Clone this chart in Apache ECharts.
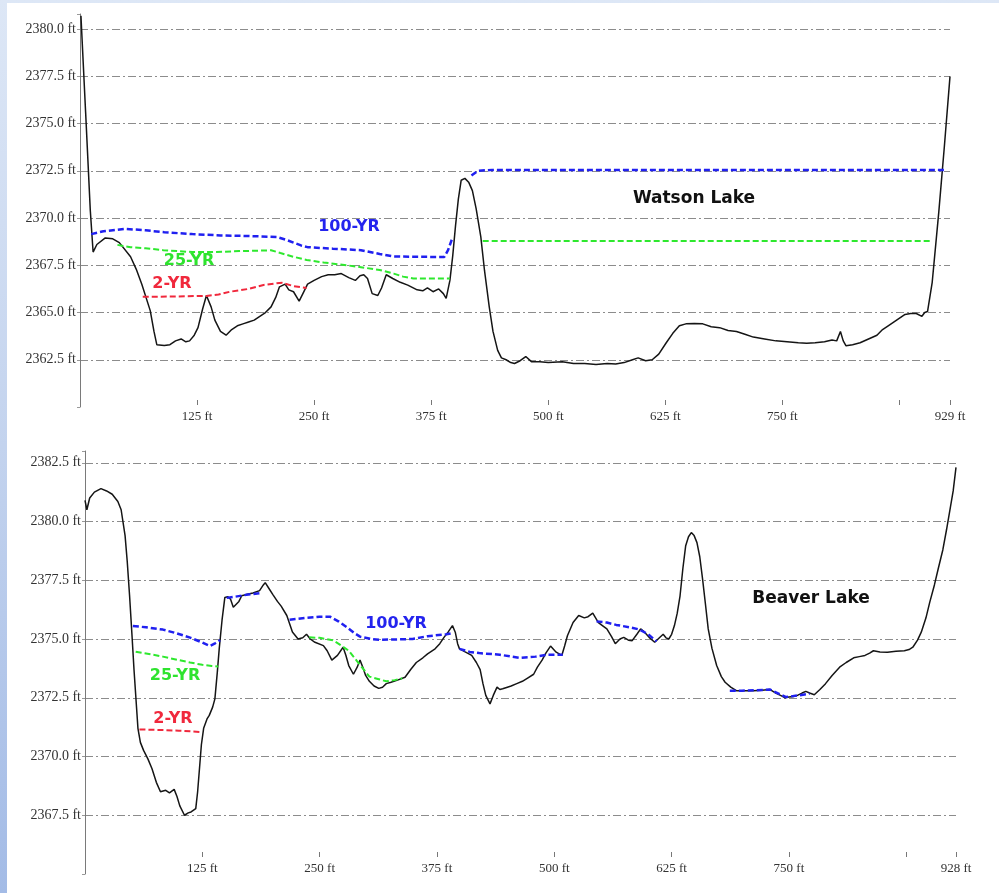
<!DOCTYPE html>
<html>
<head>
<meta charset="utf-8">
<script src="https://cdn.jsdelivr.net/npm/echarts@6/dist/echarts.min.js"></script>
<style>
html,body{margin:0;padding:0;width:999px;height:893px;overflow:hidden;}
body{background:linear-gradient(180deg,#dde7f6 0%,#c3d3ee 50%,#a3bbe6 100%);position:relative;}
#paper{position:absolute;left:7px;top:3px;right:0;bottom:0;background:#ffffff;}
#chart{position:absolute;left:0;top:0;width:999px;height:893px;}
</style>
</head>
<body>
<div id="paper"></div>
<div id="chart"></div>
<script>
// ---------- tick labels ----------
const topYTickLabels = ['2362.5 ft','2365.0 ft','2367.5 ft','2370.0 ft','2372.5 ft','2375.0 ft','2377.5 ft','2380.0 ft'];
const botYTickLabels = ['2367.5 ft','2370.0 ft','2372.5 ft','2375.0 ft','2377.5 ft','2380.0 ft','2382.5 ft'];
const topXTickLabels = ['125 ft','250 ft','375 ft','500 ft','625 ft','750 ft','929 ft'];
const botXTickLabels = ['125 ft','250 ft','375 ft','500 ft','625 ft','750 ft','928 ft'];

// ---------- Watson Lake (top) ----------
const topGround = [[1,2380.7],[6,2375.6],[11,2370.4],[14,2368.2],[18,2368.6],[27,2368.95],[35,2368.9],[42,2368.7],[54,2367.95],[60,2367.3],[66,2366.5],[75,2365.1],[79,2364.0],[82,2363.3],[90,2363.25],[96,2363.3],[102,2363.5],[108,2363.6],[113,2363.45],[117,2363.5],[122,2363.8],[126,2364.2],[131,2365.2],[135,2365.9],[137,2365.95],[140,2365.3],[144,2364.6],[150,2364.0],[156,2363.8],[162,2364.1],[168,2364.3],[174,2364.4],[180,2364.5],[186,2364.6],[192,2364.8],[198,2365.0],[204,2365.3],[209,2365.8],[213,2366.36],[219,2366.5],[223,2366.2],[228,2366.1],[234,2365.6],[238,2366.0],[243,2366.5],[250,2366.7],[258,2366.9],[265,2367.0],[272,2367.0],[279,2367.06],[287,2366.85],[294,2366.7],[299,2366.95],[303,2367.0],[307,2366.8],[312,2366.0],[318,2365.9],[322,2366.3],[327,2367.0],[334,2366.8],[342,2366.6],[350,2366.45],[360,2366.2],[366,2366.15],[371,2366.3],[377,2366.1],[383,2366.25],[388,2366.0],[391,2365.75],[395,2366.7],[398,2368.0],[401,2369.6],[404,2371.0],[407,2372.0],[411,2372.1],[415,2371.9],[419,2371.45],[423,2370.5],[428,2369.0],[432,2367.2],[437,2365.3],[441,2364.0],[446,2363.0],[450,2362.6],[455,2362.5],[460,2362.35],[464,2362.3],[470,2362.45],[476,2362.67],[482,2362.4],[491,2362.4],[500,2362.35],[515,2362.4],[527,2362.3],[539,2362.3],[551,2362.25],[563,2362.3],[572,2362.28],[581,2362.35],[590,2362.5],[596,2362.6],[604,2362.45],[611,2362.5],[618,2362.8],[626,2363.4],[633,2363.9],[640,2364.3],[647,2364.4],[656,2364.42],[665,2364.4],[674,2364.25],[683,2364.2],[692,2364.05],[701,2364.0],[710,2363.85],[719,2363.7],[731,2363.6],[743,2363.5],[755,2363.45],[767,2363.4],[776,2363.38],[785,2363.4],[795,2363.45],[803,2363.55],[808,2363.5],[812,2364.0],[815,2363.5],[818,2363.24],[825,2363.3],[833,2363.4],[842,2363.6],[851,2363.8],[857,2364.1],[863,2364.3],[872,2364.6],[881,2364.9],[887,2364.95],[893,2364.95],[899,2364.8],[902,2365.0],[905,2365.05],[910,2366.6],[917,2370.3],[923,2373.8],[929,2377.5]];
const top100 = [[12,2369.15],[25,2369.3],[48,2369.43],[70,2369.35],[90,2369.25],[120,2369.15],[150,2369.08],[180,2369.05],[210,2369.0],[220,2368.85],[228,2368.7],[236,2368.55],[243,2368.46],[270,2368.38],[300,2368.3],[320,2368.1],[335,2367.97],[360,2367.95],[389,2367.94],[393,2368.3],[398,2369.0],[405,null],[418,2372.25],[425,2372.5],[440,2372.55],[600,2372.55],[800,2372.55],[925,2372.55]];
const top25 = [[40,2368.58],[54,2368.46],[70,2368.4],[89,2368.3],[120,2368.2],[142,2368.2],[170,2368.25],[196,2368.28],[204,2368.3],[214,2368.15],[228,2367.95],[242,2367.78],[260,2367.65],[285,2367.5],[300,2367.4],[320,2367.25],[335,2367.06],[345,2366.9],[356,2366.8],[375,2366.8],[395,2366.8],[412,null],[430,2368.78],[700,2368.78],[910,2368.78]];
const top2 = [[67,2365.83],[100,2365.85],[135,2365.88],[148,2365.95],[160,2366.1],[180,2366.25],[196,2366.46],[210,2366.55],[216,2366.57],[228,2366.4],[242,2366.3]];

// ---------- Beaver Lake (bottom) ----------
const botGround = [[0,2380.9],[2,2380.5],[5,2381.0],[10,2381.25],[17,2381.4],[23,2381.3],[29,2381.16],[35,2380.85],[38.5,2380.5],[42.7,2379.4],[45,2378.3],[47.5,2376.84],[50,2375.2],[52.2,2373.7],[56.4,2371.2],[59,2370.6],[62.4,2370.26],[67,2369.9],[71.4,2369.48],[76,2368.9],[80.4,2368.5],[86,2368.56],[90,2368.45],[95,2368.6],[98,2368.3],[101,2367.9],[106,2367.5],[110,2367.6],[113,2367.64],[118,2367.78],[120,2368.5],[122,2369.5],[124,2370.5],[126.4,2371.2],[130,2371.6],[132.4,2371.75],[136,2372.1],[138.4,2372.45],[141,2373.6],[143,2374.58],[146,2375.8],[149,2376.77],[152,2376.8],[155,2376.7],[158,2376.35],[160,2376.28],[164,2376.6],[167,2376.84],[173,2376.9],[179,2376.96],[186,2377.06],[190,2377.3],[192,2377.4],[196,2377.15],[200,2376.9],[205,2376.6],[209,2376.4],[215,2376.0],[221,2375.3],[227,2375.0],[232,2375.05],[236,2375.2],[240,2375.0],[245,2374.86],[254,2374.72],[258,2374.5],[263,2374.1],[269,2374.3],[275,2374.65],[278,2374.3],[281,2373.87],[286,2373.5],[290,2373.8],[293,2374.1],[296,2373.8],[299,2373.45],[303,2373.2],[308,2373.0],[313,2372.9],[317,2372.95],[321,2373.1],[326,2373.16],[333,2373.25],[341,2373.37],[347,2373.7],[353,2374.0],[360,2374.2],[365,2374.37],[373,2374.58],[378,2374.8],[382.5,2375.07],[387,2375.3],[391.5,2375.57],[394.5,2375.29],[397,2374.8],[399,2374.58],[405,2374.45],[412,2374.3],[417,2374.0],[421,2373.7],[424,2373.1],[427,2372.6],[431.5,2372.24],[435,2372.6],[439,2372.95],[442,2372.85],[445,2372.88],[450,2372.95],[454,2373.0],[460,2373.1],[466,2373.2],[472,2373.35],[478,2373.5],[482,2373.8],[487,2374.1],[491,2374.4],[496,2374.7],[502,2374.44],[508,2374.3],[511,2374.7],[514,2375.14],[520,2375.7],[526,2376.0],[532,2375.9],[536,2375.95],[541,2376.1],[547,2375.7],[552,2375.55],[556,2375.43],[561,2375.1],[565,2374.8],[570,2375.0],[574,2375.07],[579,2374.95],[583,2374.93],[588,2375.2],[592,2375.43],[596,2375.3],[601,2375.07],[607,2374.86],[612,2375.05],[616,2375.2],[619,2375.05],[622,2375.0],[625,2375.2],[628,2375.57],[631,2376.1],[634,2376.84],[637,2378.0],[640,2378.97],[643,2379.35],[646,2379.53],[649,2379.4],[652,2379.1],[655,2378.5],[658,2377.55],[661,2376.5],[664,2375.43],[668,2374.6],[673,2373.87],[678,2373.4],[682,2373.16],[688,2372.95],[694,2372.8],[703,2372.8],[712,2372.8],[721,2372.82],[730,2372.85],[736,2372.7],[741,2372.6],[746,2372.5],[750,2372.53],[755,2372.55],[759,2372.6],[764,2372.7],[768,2372.77],[772,2372.7],[777,2372.63],[783,2372.85],[789,2373.1],[796,2373.45],[804,2373.8],[811,2374.0],[819,2374.2],[825,2374.25],[831,2374.3],[836,2374.4],[840,2374.5],[847,2374.45],[855,2374.44],[864,2374.48],[873,2374.5],[878,2374.55],[882,2374.65],[887,2374.95],[891,2375.29],[896,2375.9],[900,2376.56],[905,2377.3],[909,2377.98],[914,2378.8],[918,2379.67],[922,2380.6],[925,2381.3],[928,2382.3]];
const bot100 = [[51,2375.55],[65,2375.5],[83,2375.4],[97,2375.25],[112,2375.06],[125,2374.85],[133,2374.7],[138,2374.8],[144,2374.95],[147,null],[151,2376.75],[160,2376.8],[172,2376.88],[186,2376.95],[200,null],[218,2375.82],[235,2375.9],[250,2375.95],[261,2375.95],[270,2375.75],[279,2375.5],[287,2375.25],[293,2375.1],[305,2375.0],[314,2374.97],[330,2374.98],[349,2375.0],[365,2375.12],[385,2375.2],[391,2375.25],[395,null],[399,2374.58],[410,2374.45],[420,2374.4],[442,2374.33],[463,2374.2],[480,2374.25],[492,2374.33],[509,2374.33],[520,null],[545,2375.75],[556,2375.7],[566,2375.6],[580,2375.5],[591,2375.4],[600,2375.2],[609,2374.9],[640,null],[687,2372.8],[700,2372.8],[715,2372.82],[730,2372.85],[740,2372.65],[747,2372.53],[760,2372.6],[772,2372.67]];
const bot25 = [[54,2374.46],[70,2374.35],[83,2374.25],[100,2374.1],[112,2374.0],[125,2373.9],[135,2373.85],[142,2373.83],[190,null],[239,2375.07],[250,2375.05],[264,2374.95],[272,2374.75],[281,2374.5],[290,2374.05],[296,2373.75],[303,2373.4],[312,2373.3],[321,2373.2],[330,2373.25],[338,2373.33]];
const bot2 = [[58,2371.15],[80,2371.13],[100,2371.1],[125,2371.04]];

// ---------- styling ----------
const gridLine = {show:true, showMinLine:false, showMaxLine:false, lineStyle:{color:'#8c8c8c', width:1, type:[8,3,2,3]}};
const serif = '"Liberation Serif", "DejaVu Serif", serif';
function labelFrom(list){
  return function(v){
    const s1 = (Math.round(v*10)/10).toFixed(1) + ' ft';
    if (list.indexOf(s1) >= 0) return s1;
    const s2 = Math.round(v) + ' ft';
    if (Math.abs(v - Math.round(v)) < 1e-6 && list.indexOf(s2) >= 0) return s2;
    return '';
  };
}
function xAxisCfg(idx, max, list, offset){
  return {type:'value', gridIndex:idx, min:0, max:max, interval:125, offset:offset,
    axisLine:{show:false}, axisTick:{show:true, length:5, lineStyle:{color:'#777'}},
    axisLabel:{margin:10, fontFamily:serif, fontSize:13, color:'#333', formatter:labelFrom(list), showMinLabel:false, showMaxLabel:true},
    splitLine:{show:false}};
}
function yAxisCfg(idx, min, max, list){
  return {type:'value', gridIndex:idx, min:min, max:max, interval:2.5,
    axisLine:{show:true, lineStyle:{color:'#7a7a7a', width:1}},
    axisTick:{show:true, length:3, lineStyle:{color:'#999'}},
    axisLabel:{margin:4, fontFamily:serif, fontSize:14, color:'#333', formatter:labelFrom(list)},
    splitLine:gridLine};
}
function lineSeries(xi, data, color, width, dashed, z){
  return {type:'line', xAxisIndex:xi, yAxisIndex:xi, data:data, symbol:'none', smooth:false, connectNulls:false,
    lineStyle:{color:color, width:width, type: dashed ? [6,3] : 'solid'}, z:z, silent:true};
}
const lbl = (t, x, y, color, size) => ({type:'text', x:x, y:y, z:100,
  style:{text:t, fill:color, font:'bold ' + size + 'px "DejaVu Sans", sans-serif', align:'center', verticalAlign:'middle'}});

const chart = echarts.init(document.getElementById('chart'), null, {renderer:'canvas'});
chart.setOption({
  backgroundColor:'transparent',
  animation:false,
  grid:[
    {left:80, right:49, top:14, height:393, containLabel:false},
    {left:85, right:43, top:451, height:423, containLabel:false}
  ],
  xAxis:[ xAxisCfg(0, 929, topXTickLabels, -7), xAxisCfg(1, 928, botXTickLabels, -22) ],
  yAxis:[ yAxisCfg(0, 2360, 2380.8, topYTickLabels), yAxisCfg(1, 2365, 2383, botYTickLabels) ],
  series:[
    lineSeries(0, topGround, '#151515', 1.5, false, 2),
    lineSeries(0, top2, '#f0283c', 2, true, 3),
    lineSeries(0, top25, '#2ee82e', 2, true, 3),
    lineSeries(0, top100, '#2020f0', 2.5, true, 4),
    lineSeries(1, botGround, '#151515', 1.5, false, 2),
    lineSeries(1, bot2, '#f0283c', 2, true, 3),
    lineSeries(1, bot25, '#2ee82e', 2, true, 3),
    lineSeries(1, bot100, '#2020f0', 2.5, true, 4)
  ],
  graphic:[
    lbl('100-YR', 349, 227, '#2424ee', 16),
    lbl('25-YR', 189, 261, '#2ee32e', 16),
    lbl('2-YR', 172, 284, '#f0283c', 16),
    lbl('Watson Lake', 694, 199, '#111', 17),
    lbl('100-YR', 396, 624, '#2424ee', 16),
    lbl('25-YR', 175, 676, '#2ee32e', 16),
    lbl('2-YR', 173, 719, '#f0283c', 16),
    lbl('Beaver Lake', 811, 599, '#111', 17)
  ]
});
</script>
</body>
</html>
